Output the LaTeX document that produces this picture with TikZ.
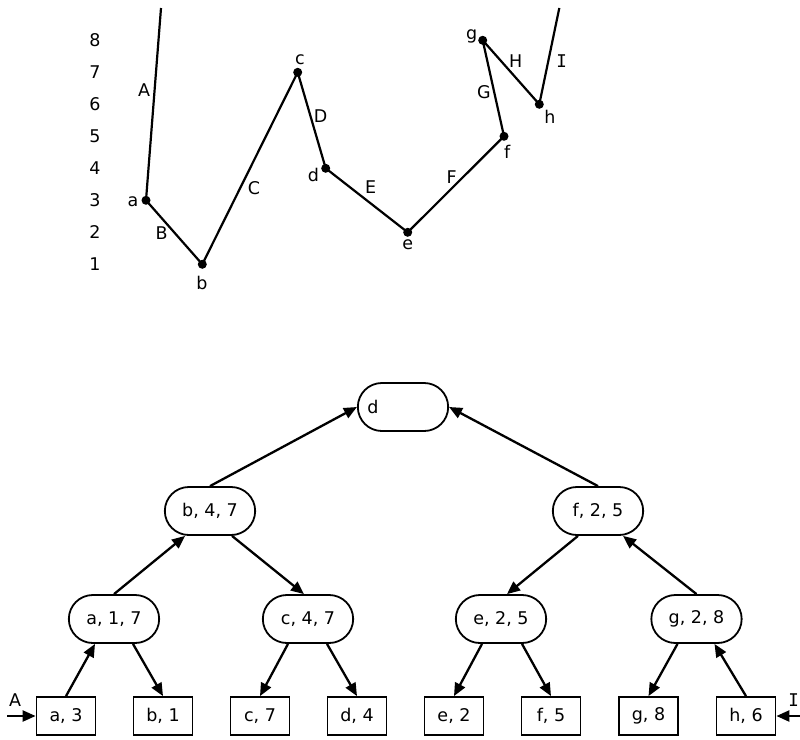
\documentclass[tikz,border=0pt]{standalone}
\usepackage{fontspec}
\setmainfont{DejaVu Sans}
\newfontfamily\serifI{DejaVu Sans Mono}
\usetikzlibrary{arrows.meta,shapes.misc,positioning}
\tikzset{
  inner/.style={draw, rounded rectangle, line width=1.8pt, minimum width=97pt, minimum height=48pt},
  leaf/.style={draw, rectangle, line width=1.8pt, minimum width=59pt, minimum height=38pt},
  link/.style={line width=2.3pt, -{Triangle[length=13pt,width=11pt]}},
  dot/.style={circle, fill, inner sep=0pt, minimum size=9pt},
  curve/.style={line width=2.2pt}
}
\begin{document}
\begin{tikzpicture}[x=1pt, y=-1pt, font=\fontsize{17.5}{21}\selectfont]
      \useasboundingbox (0,0) rectangle (800,739);
      % value scale
      \foreach \v in {1,...,8} \node (lev\v) at (95,{296.3-32*\v}) {\v};
      % sample points
      \node[dot] (a) at (146,200.3) {};
      \node[dot] (b) at (202.3,264.3) {};
      \node[dot] (c) at (297.7,72.3) {};
      \node[dot] (d) at (325.7,168.3) {};
      \node[dot] (e) at (407.7,232.3) {};
      \node[dot] (f) at (504,136.3) {};
      \node[dot] (g) at (482.7,40.3) {};
      \node[dot] (h) at (539.3,104.3) {};
      \coordinate (Atop) at (161,8);
      \coordinate (Itop) at (559.3,8);
      \draw[curve] (Atop) -- (a.center) -- (b.center) -- (c.center) -- (d.center) -- (e.center)
                   -- (f.center) -- (g.center) -- (h.center) -- (Itop); % segments
      % point names
      \node (la) at (133,201.7) {a};
      \node (lb) at (202,282.7) {b};
      \node (lc) at (300,60) {c};
      \node (ld) at (313.3,175) {d};
      \node (le) at (407.7,245) {e};
      \node (lf) at (507.3,151.7) {f};
      \node (lg) at (471.7,36.7) {g};
      \node (lh) at (550,116.7) {h};
      % segment names
      \node (sA) at (144,90) {A};
      \node (sB) at (161.7,233.3) {B};
      \node (sC) at (254,188.3) {C};
      \node (sD) at (320.7,115.7) {D};
      \node (sE) at (370.7,187.3) {E};
      \node (sF) at (451.7,176.7) {F};
      \node (sG) at (484,91.7) {G};
      \node (sH) at (515.7,61) {H};
      \node (sI) at (561.7,61) {\serifI I};
      % tree
      \node[inner] (root) at (403,407) {};
      \node (rootlab) at ([xshift=16pt]root.west) {d};
      \node[inner] (b47) at (210,511) {b, 4, 7};
      \node[inner] (f25) at (598,511) {f, 2, 5};
      \node[inner] (a17) at (114,619) {a, 1, 7};
      \node[inner] (c47) at (308,619) {c, 4, 7};
      \node[inner] (e25) at (501,619) {e, 2, 5};
      \node[inner] (g28) at (696.5,619) {g, 2, 8};
      \node[leaf] (a3) at (66,716) {a, 3};
      \node[leaf] (b1) at (163,716) {b, 1};
      \node[leaf] (c7) at (260,716) {c, 7};
      \node[leaf] (d4) at (357,716) {d, 4};
      \node[leaf] (e2) at (454,716) {e, 2};
      \node[leaf] (f5) at (551,716) {f, 5};
      \node[leaf] (g8) at (648.5,716) {g, 8};
      \node[leaf] (h6) at (746,716) {h, 6};
      % upper links
      \draw[link] (b47.north) -- (root.west);
      \draw[link] (f25.north) -- (root.east);
      \draw[link] (a17.north) -- ([xshift=-25pt]b47.south);
      \draw[link] ([xshift=22pt]b47.south) -- ([xshift=-4pt]c47.north);
      \draw[link] ([xshift=-20pt]f25.south) -- ([xshift=6pt]e25.north);
      \draw[link] (g28.north) -- ([xshift=25pt]f25.south);
      % leaf links
      \draw[link] (a3.north) -- ([xshift=-19pt]a17.south);
      \draw[link] ([xshift=19pt]a17.south) -- (b1.north);
      \draw[link] ([xshift=-20pt]c47.south) -- (c7.north);
      \draw[link] ([xshift=19pt]c47.south) -- (d4.north);
      \draw[link] ([xshift=-19pt]e25.south) -- (e2.north);
      \draw[link] ([xshift=21pt]e25.south) -- (f5.north);
      \draw[link] ([xshift=-19pt]g28.south) -- (g8.north);
      \draw[link] (h6.north) -- ([xshift=18pt]g28.south);
      % end inputs
      \coordinate (inA) at (7,716);
      \coordinate (inI) at (800,716);
      \draw[link] (inA) -- (a3.west);
      \draw[link] (inI) -- (h6.east);
      \node (lA) at (15,700) {A};
      \node[anchor=east, inner sep=1pt] (lI) at (800,700) {\serifI I};
\end{tikzpicture}
\end{document}
